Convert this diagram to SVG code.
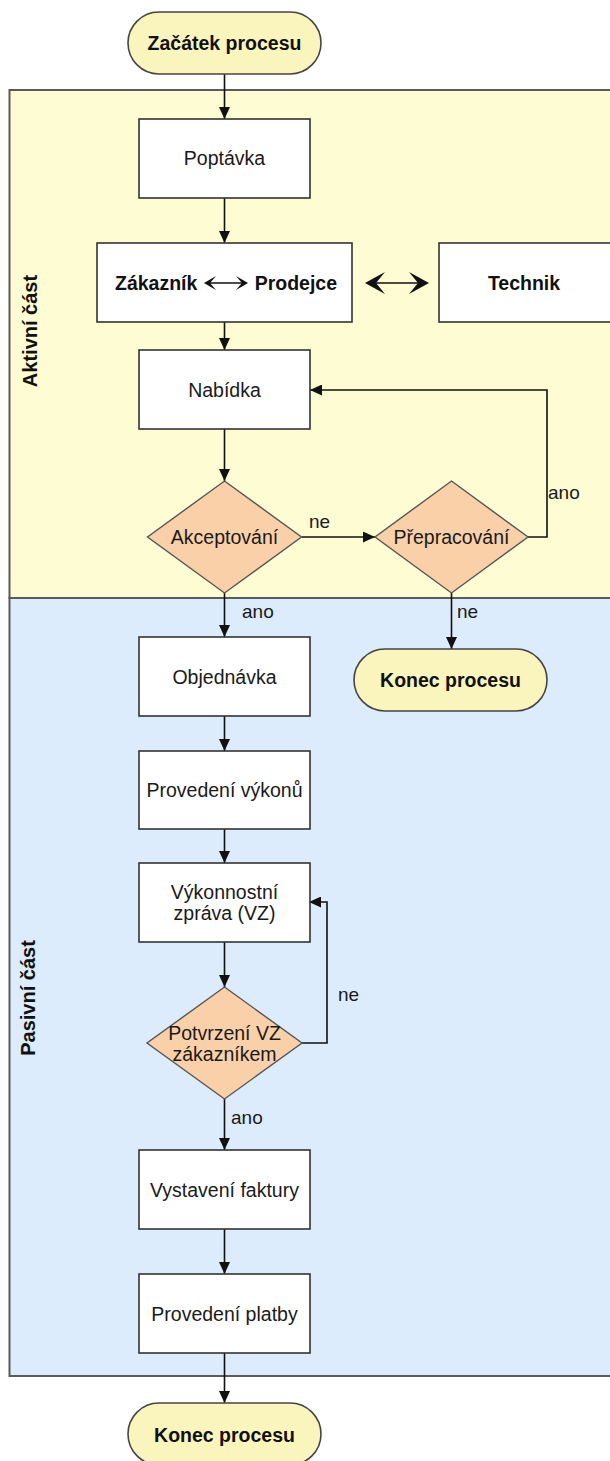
<svg xmlns="http://www.w3.org/2000/svg" width="610" height="1461" viewBox="0 0 610 1461">
  <defs>
    <style>
      .lane-a { fill: #FEFCD3; stroke: #5a5a5a; stroke-width: 2; }
      .lane-p { fill: #DDECFC; stroke: #5a5a5a; stroke-width: 2; }
      .box { fill: #FFFFFF; stroke: #333333; stroke-width: 1.6; }
      .term { fill: #FAF5BD; stroke: #444444; stroke-width: 1.6; }
      .dec { fill: #F9D0A8; stroke: #555555; stroke-width: 1.4; }
      .t { font-family: "Liberation Sans", Arial, sans-serif; font-size: 19.5px; fill: #1a1a1a; text-anchor: middle; }
      .b { font-weight: bold; fill: #111111; }
      .lbl { font-family: "Liberation Sans", Arial, sans-serif; font-size: 19px; fill: #1a1a1a; }
      .side { font-family: "Liberation Sans", Arial, sans-serif; font-size: 20px; font-weight: bold; fill: #111111; text-anchor: middle; }
      .wire { fill: none; stroke: #111111; stroke-width: 1.6; }
      .chev { fill: #111111; stroke: none; }
    </style>
    <marker id="arr" viewBox="0 0 12 11" refX="12" refY="5.5" markerWidth="12" markerHeight="11" markerUnits="userSpaceOnUse" orient="auto">
      <path d="M0,0 L12,5.5 L0,11 Z" fill="#111111"/>
    </marker>
  </defs>

  <!-- swimlanes -->
  <g id="lane-active">
    <rect class="lane-a" x="9.5" y="90" width="620" height="508"/>
    <text class="side" transform="translate(37,331) rotate(-90)">Aktivní část</text>
  </g>
  <g id="lane-passive">
    <rect class="lane-p" x="9.5" y="598" width="620" height="778"/>
    <text class="side" transform="translate(35,998) rotate(-90)">Pasivní část</text>
  </g>

  <!-- connectors -->
  <g id="connectors">
    <path class="wire" d="M224.5,74 V119" marker-end="url(#arr)"/>
    <path class="wire" d="M224.5,198 V243" marker-end="url(#arr)"/>
    <path class="wire" d="M224.5,322 V350" marker-end="url(#arr)"/>
    <path class="wire" d="M224.5,429 V481" marker-end="url(#arr)"/>
    <path class="wire" d="M301.5,537 H375" marker-end="url(#arr)"/>
    <path class="wire" d="M528,537 H547 V390 H310" marker-end="url(#arr)"/>
    <path class="wire" d="M224.5,593 V637" marker-end="url(#arr)"/>
    <path class="wire" d="M451.5,593 V649" marker-end="url(#arr)"/>
    <path class="wire" d="M224.5,716 V751" marker-end="url(#arr)"/>
    <path class="wire" d="M224.5,829 V863" marker-end="url(#arr)"/>
    <path class="wire" d="M224.5,942 V987" marker-end="url(#arr)"/>
    <path class="wire" d="M302,1043 H327 V902 H309" marker-end="url(#arr)"/>
    <path class="wire" d="M224.5,1099 V1150" marker-end="url(#arr)"/>
    <path class="wire" d="M224.5,1229 V1274" marker-end="url(#arr)"/>
    <path class="wire" d="M224.5,1353 V1403" marker-end="url(#arr)"/>
    <!-- two-way link between sales and technician -->
    <path class="wire" d="M372,283 H422" stroke-width="1.4"/>
    <path class="chev" d="M365,283 L385,272 L376,283 L385,294 Z"/>
    <path class="chev" d="M429,283 L409,272 L418,283 L409,294 Z"/>
    <!-- connector labels -->
    <text class="lbl" x="309" y="528">ne</text>
    <text class="lbl" x="548" y="499">ano</text>
    <text class="lbl" x="242" y="618">ano</text>
    <text class="lbl" x="457" y="618">ne</text>
    <text class="lbl" x="338" y="1001">ne</text>
    <text class="lbl" x="231" y="1124">ano</text>
  </g>

  <!-- nodes -->
  <g id="start">
    <rect class="term" x="128" y="12" width="193" height="62" rx="31"/>
    <text class="t b" x="224.5" y="50">Začátek procesu</text>
  </g>
  <g id="poptavka">
    <rect class="box" x="139" y="119" width="171" height="79"/>
    <text class="t" x="224.5" y="165">Poptávka</text>
  </g>
  <g id="zakaznik-prodejce">
    <rect class="box" x="97" y="243" width="255" height="79"/>
    <text class="t b" x="115" y="290" style="text-anchor:start">Zákazník</text>
    <text class="t b" x="337" y="290" style="text-anchor:end">Prodejce</text>
    <path class="wire" d="M209,283 H243" stroke-width="1.2"/>
    <path class="chev" d="M204,283 L216,276 L210,283 L216,290 Z"/>
    <path class="chev" d="M248,283 L236,276 L242,283 L236,290 Z"/>
  </g>
  <g id="technik">
    <rect class="box" x="439" y="243" width="172" height="79"/>
    <text class="t b" x="524" y="290">Technik</text>
  </g>
  <g id="nabidka">
    <rect class="box" x="139" y="350" width="171" height="79"/>
    <text class="t" x="224.5" y="397">Nabídka</text>
  </g>
  <g id="akceptovani">
    <polygon class="dec" points="224.5,481 301.5,537 224.5,593 147.5,537"/>
    <text class="t" x="224.5" y="544">Akceptování</text>
  </g>
  <g id="prepracovani">
    <polygon class="dec" points="451.5,481 528,537 451.5,593 375,537"/>
    <text class="t" x="451.5" y="544">Přepracování</text>
  </g>
  <g id="konec-1">
    <rect class="term" x="354" y="649" width="193" height="62" rx="31"/>
    <text class="t b" x="450.5" y="687">Konec procesu</text>
  </g>
  <g id="objednavka">
    <rect class="box" x="139" y="637" width="171" height="79"/>
    <text class="t" x="224.5" y="684">Objednávka</text>
  </g>
  <g id="provedeni-vykonu">
    <rect class="box" x="139" y="751" width="171" height="78"/>
    <text class="t" x="224.5" y="797">Provedení výkonů</text>
  </g>
  <g id="vykonnostni-zprava">
    <rect class="box" x="139" y="863" width="171" height="79"/>
    <text class="t" x="224.5" y="899">Výkonnostní</text>
    <text class="t" x="224.5" y="920">zpráva (VZ)</text>
  </g>
  <g id="potvrzeni-vz">
    <polygon class="dec" points="224.5,987 302,1043 224.5,1099 147,1043"/>
    <text class="t" x="224.5" y="1040">Potvrzení VZ</text>
    <text class="t" x="224.5" y="1061">zákazníkem</text>
  </g>
  <g id="vystaveni-faktury">
    <rect class="box" x="139" y="1150" width="171" height="79"/>
    <text class="t" x="224.5" y="1197">Vystavení faktury</text>
  </g>
  <g id="provedeni-platby">
    <rect class="box" x="139" y="1274" width="171" height="79"/>
    <text class="t" x="224.5" y="1321">Provedení platby</text>
  </g>
  <g id="konec-2">
    <rect class="term" x="128" y="1403" width="193" height="62" rx="31"/>
    <text class="t b" x="224.5" y="1442">Konec procesu</text>
  </g>
</svg>
